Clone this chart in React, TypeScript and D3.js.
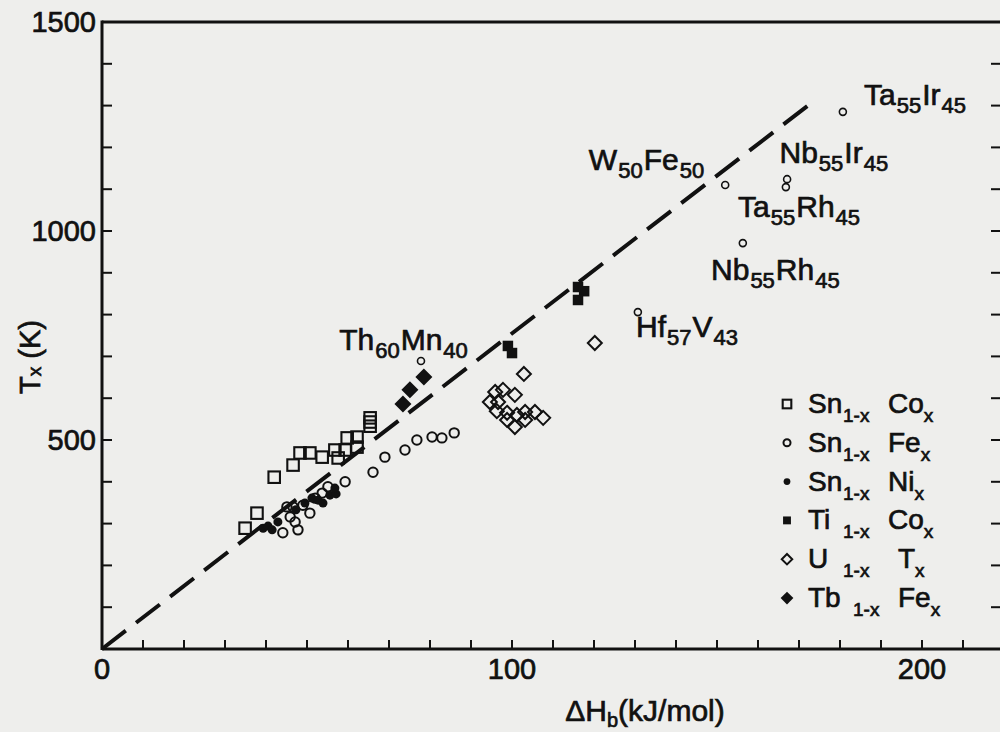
import React from 'react';
import * as d3 from 'd3';

// ---------- data (ΔH in kJ/mol, Tx in K) ----------
const snCo: [number, number][] = [
  [34.9, 289], [37.8, 325], [42.0, 411], [46.6, 440], [48.3, 469], [50.7, 469],
  [53.7, 459], [56.8, 476], [57.6, 457], [59.3, 476], [59.8, 505], [62.2, 507],
  [62.2, 483], [65.4, 553], [65.4, 533], [65.4, 543],
];
const snFe: [number, number][] = [
  [44.1, 278], [47.8, 285], [45.9, 316], [46.6, 340], [49.0, 344], [47.1, 304],
  [45.1, 340], [50.7, 325], [52.0, 361], [53.7, 373], [55.1, 388], [59.3, 400],
  [66.1, 423], [69.0, 459], [73.9, 476], [76.8, 500], [80.5, 507], [82.9, 505],
  [85.9, 517],
];
const snNi: [number, number][] = [
  [39.3, 289], [40.5, 294], [41.5, 285], [42.9, 304], [47.3, 333], [49.5, 349],
  [51.2, 361], [52.7, 356], [53.9, 349], [55.6, 368], [57.1, 371], [56.8, 385],
];
const tiCo: [number, number][] = [
  [116.1, 866], [117.6, 856], [116.1, 835], [99.0, 725], [100.0, 708],
];
const uT: [number, number][] = [
  [102.9, 658], [95.9, 615], [97.8, 620], [100.7, 608], [94.6, 591], [96.6, 591],
  [96.3, 569], [98.8, 548], [101.2, 560], [103.2, 567], [105.6, 567], [107.6, 553],
  [100.7, 531], [103.2, 548], [98.8, 565], [120.2, 732],
];
const tbFe: [number, number][] = [
  [78.5, 651], [75.1, 620], [73.4, 586],
];
// named compounds (small open circles)
const namedPoints: [number, number][] = [
  [77.8, 689], [130.7, 806], [152.0, 1110], [167.1, 1124], [166.8, 1105],
  [180.7, 1285], [156.3, 971],
];
// formula labels: parts and anchor (data units)
type Part = [string, boolean];
const compoundLabels: { parts: Part[]; at: [number, number] }[] = [
  { parts: [['Th', false], ['60', true], ['Mn', false], ['40', true]], at: [57.6, 715] },
  { parts: [['W', false], ['50', true], ['Fe', false], ['50', true]], at: [118.5, 1146] },
  { parts: [['Ta', false], ['55', true], ['Ir', false], ['45', true]], at: [185.6, 1301] },
  { parts: [['Nb', false], ['55', true], ['Ir', false], ['45', true]], at: [165.0, 1163] },
  { parts: [['Ta', false], ['55', true], ['Rh', false], ['45', true]], at: [154.9, 1033] },
  { parts: [['Nb', false], ['55', true], ['Rh', false], ['45', true]], at: [148.3, 883] },
  { parts: [['Hf', false], ['57', true], ['V', false], ['43', true]], at: [130.0, 747] },
];
// fitted line Tx = k·ΔH
const lineSlope = 7.55;
const lineEnd = 174.5;

const xTickLabels = [0, 100, 200];
const yTickLabels = [500, 1000, 1500];

const legendItems = [
  { sym: 'openSquare', a: 'Sn', b: 'Co' },
  { sym: 'openCircle', a: 'Sn', b: 'Fe' },
  { sym: 'dot', a: 'Sn', b: 'Ni' },
  { sym: 'filledSquare', a: 'Ti', b: 'Co' },
  { sym: 'openDiamond', a: 'U', b: 'T' },
  { sym: 'filledDiamond', a: 'Tb', b: 'Fe' },
];

// ---------- layout ----------
const W = 1000;
const H = 732;
const FONT = '"Liberation Sans", Arial, sans-serif';
const INK = '#111';
const TEXT_STROKE = 0.7;

const x = d3.scaleLinear().domain([0, 220]).range([102, 1004]);
const y = d3.scaleLinear().domain([0, 1500]).range([649, 22]);

function diamond(r: number) {
  return `M0,${-r}L${r},0L0,${r}L${-r},0Z`;
}

function Marker({ type, cx, cy, scale = 1 }: { type: string; cx: number; cy: number; scale?: number }) {
  const t = `translate(${cx},${cy})`;
  switch (type) {
    case 'openSquare': {
      const s = 11.5 * scale;
      return <rect x={cx - s / 2} y={cy - s / 2} width={s} height={s} fill="none" stroke={INK} strokeWidth={2.1} />;
    }
    case 'openCircle':
      return <circle cx={cx} cy={cy} r={4.7 * scale} fill="none" stroke={INK} strokeWidth={2} />;
    case 'smallCircle':
      return <circle cx={cx} cy={cy} r={3.5 * scale} fill="none" stroke={INK} strokeWidth={1.6} />;
    case 'dot':
      return <circle cx={cx} cy={cy} r={4.5 * scale} fill={INK} />;
    case 'filledSquare': {
      const s = 10.5 * scale;
      return <rect x={cx - s / 2} y={cy - s / 2} width={s} height={s} fill={INK} />;
    }
    case 'openDiamond':
      return <path transform={t} d={diamond(7 * scale)} fill="none" stroke={INK} strokeWidth={2} />;
    case 'filledDiamond':
      return <path transform={t} d={diamond(8.5 * scale)} fill={INK} />;
    default:
      return null;
  }
}

function Formula({ px, py, parts, size, subSize, subDy }: { px: number; py: number; parts: Part[]; size: number; subSize: number; subDy: number }) {
  let cur = 0;
  return (
    <text x={px} y={py} fontFamily={FONT} fill={INK} stroke={INK} strokeWidth={TEXT_STROKE} fontSize={size}>
      {parts.map(([t, sub], i) => {
        const target = sub ? subDy : 0;
        const dy = target - cur;
        cur = target;
        return (
          <tspan key={i} dy={dy} fontSize={sub ? subSize : size} dx={1}>
            {t}
          </tspan>
        );
      })}
    </text>
  );
}

export default function App() {
  const series: { data: [number, number][]; type: string }[] = [
    { data: snCo, type: 'openSquare' },
    { data: snFe, type: 'openCircle' },
    { data: uT, type: 'openDiamond' },
    { data: snNi, type: 'dot' },
    { data: tiCo, type: 'filledSquare' },
    { data: tbFe, type: 'filledDiamond' },
    { data: namedPoints, type: 'smallCircle' },
  ];

  const [x0, x1] = x.range();
  const [y0, y1] = y.range();
  const xMinor = d3.range(10, 220, 10);
  const yMinor = d3.range(100, 1500, 100);

  const fitLine = d3.line<number>().x((d) => x(d)).y((d) => y(d * lineSlope));

  return (
    <svg width={W} height={H} style={{ position: 'absolute', left: 0, top: 0 }}>
      <rect width={W} height={H} fill="#eeeeec" />

      {/* frame */}
      <g stroke={INK} strokeWidth={3} fill="none">
        <line x1={x0} y1={y0} x2={x1} y2={y0} />
        <line x1={x0} y1={y0 + 1} x2={x0} y2={y1 - 1.5} />
        <line x1={x0} y1={y1} x2={x1} y2={y1} />
        <line x1={x1} y1={y0} x2={x1} y2={y1} />
      </g>
      {/* ticks */}
      <g stroke={INK} strokeWidth={2}>
        {xMinor.map((v) => (
          <line key={'xt' + v} x1={x(v)} x2={x(v)} y1={y0} y2={y0 - 9} />
        ))}
        {yMinor.map((v) => (
          <g key={'yt' + v}>
            <line x1={x0} x2={x0 + 10} y1={y(v)} y2={y(v)} />
            <line x1={x1} x2={x1 - 13} y1={y(v)} y2={y(v)} />
          </g>
        ))}
      </g>
      {/* tick labels */}
      <g fontFamily={FONT} fontSize={29} fill={INK} stroke={INK} strokeWidth={TEXT_STROKE}>
        {xTickLabels.map((v) => (
          <text key={'xl' + v} x={x(v)} y={y0 + 30} textAnchor="middle">
            {v}
          </text>
        ))}
        {yTickLabels.map((v) => (
          <text key={'yl' + v} x={x0 - 6} y={y(v) + 10} textAnchor="end">
            {v}
          </text>
        ))}
      </g>
      {/* axis titles */}
      <g transform={`translate(40,357) rotate(-90)`}>
        <text x={0} y={0} textAnchor="middle" fontFamily={FONT} fontSize={29} fill={INK} stroke={INK} strokeWidth={TEXT_STROKE}>
          <tspan>T</tspan>
          <tspan fontSize={19} dy={1}>x</tspan>
          <tspan dy={-1}> (K)</tspan>
        </text>
      </g>
      <text x={645} y={721} textAnchor="middle" fontFamily={FONT} fontSize={30} fill={INK} stroke={INK} strokeWidth={TEXT_STROKE}>
        <tspan>ΔH</tspan>
        <tspan fontSize={20} dy={6}>b</tspan>
        <tspan dy={-6}>(kJ/mol)</tspan>
      </text>

      {/* fitted dashed line */}
      <path
        d={fitLine([0, lineEnd]) || ''}
        fill="none"
        stroke={INK}
        strokeWidth={4}
        strokeDasharray="30 13"
      />

      {/* data */}
      {series.map((s, si) => (
        <g key={si}>
          {s.data.map(([a, b], i) => (
            <Marker key={i} type={s.type} cx={x(a)} cy={y(b)} />
          ))}
        </g>
      ))}

      {/* compound labels */}
      {compoundLabels.map((l, i) => (
        <Formula key={i} px={x(l.at[0])} py={y(l.at[1])} parts={l.parts} size={30} subSize={22} subDy={8} />
      ))}

      {/* legend */}
      {legendItems.map((it, i) => {
        const by = 413 + i * 38.8;
        const wide = it.b === 'T' || (it.b === 'Fe' && it.a === 'Tb');
        return (
          <g key={it.a + it.b}>
            <Marker type={it.sym} cx={787} cy={by - 9} scale={0.75} />
            <text x={808} y={by} fontFamily={FONT} fontSize={28} fill={INK} stroke={INK} strokeWidth={TEXT_STROKE}>
              <tspan>{it.a}</tspan>
              <tspan x={it.a === 'Tb' ? 853 : 843} dy={9} fontSize={19}>1-x</tspan>
              <tspan x={wide ? 898 : 888} dy={-9}>{it.b}</tspan>
              <tspan dy={9} fontSize={19}>x</tspan>
            </text>
          </g>
        );
      })}
    </svg>
  );
}
